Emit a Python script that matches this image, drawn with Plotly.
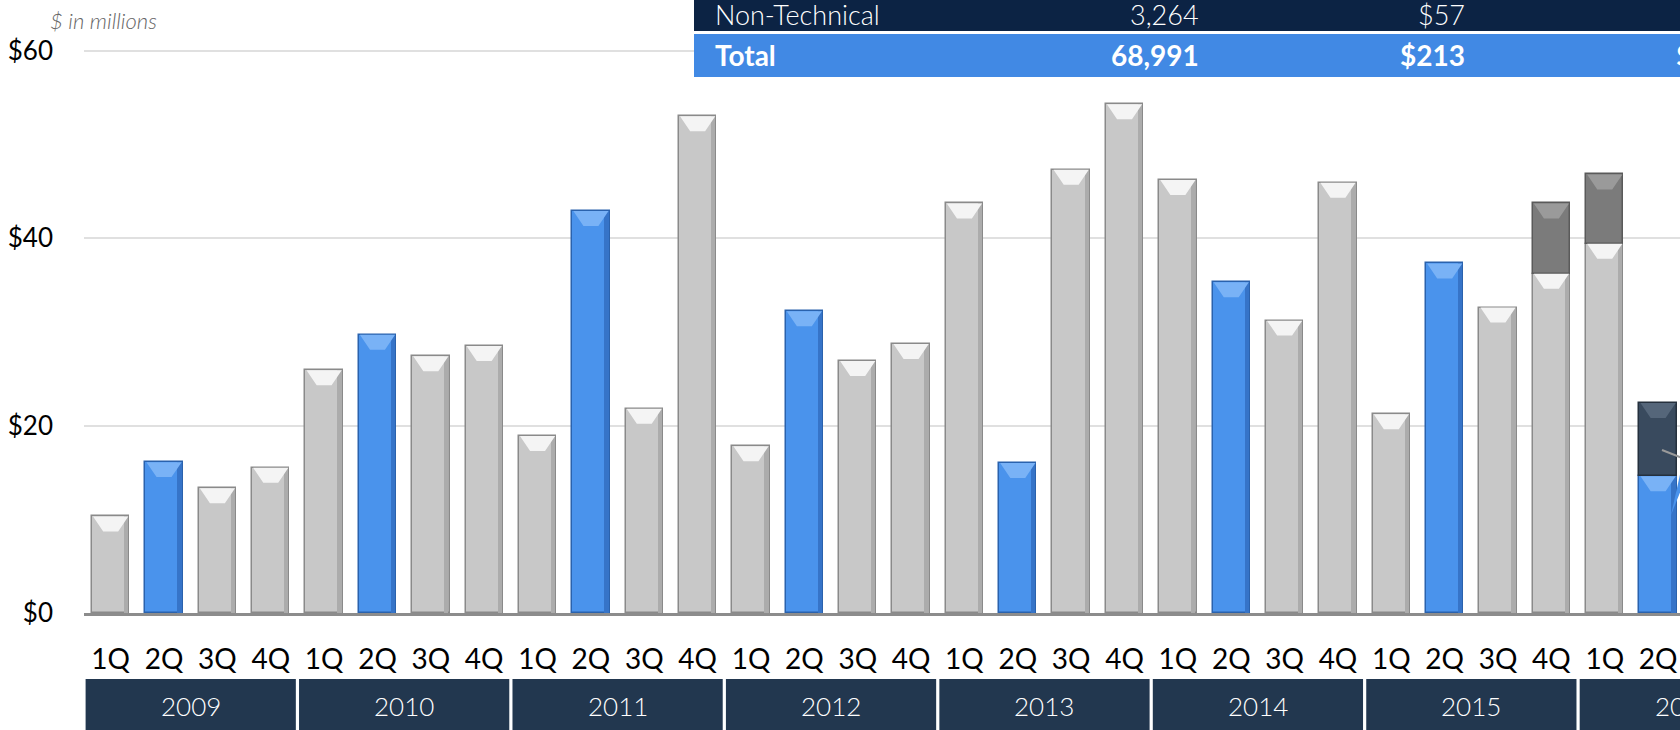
import plotly.graph_objects as go

# ---------------- data ----------------
quarter_labels = ["1Q", "2Q", "3Q", "4Q", "1Q", "2Q", "3Q", "4Q",
                  "1Q", "2Q", "3Q", "4Q", "1Q", "2Q", "3Q", "4Q",
                  "1Q", "2Q", "3Q", "4Q", "1Q", "2Q", "3Q", "4Q",
                  "1Q", "2Q", "3Q", "4Q", "1Q", "2Q"]
years = ["2009", "2010", "2011", "2012", "2013", "2014", "2015", "2016"]
base_values = [10.3, 16.1, 13.3, 15.5,
               25.9, 29.7, 27.4, 28.5,
               18.9, 42.9, 21.8, 53.0,
               17.8, 32.2, 26.9, 28.7,
               43.7, 16.0, 47.3, 54.3,
               46.2, 35.3, 31.2, 45.9,
               21.2, 37.3, 32.6, 36.2,
               39.4, 14.6]
top_values = [0, 0, 0, 0, 0, 0, 0, 0, 0, 0, 0, 0, 0, 0, 0, 0,
              0, 0, 0, 0, 0, 0, 0, 0, 0, 0, 0, 7.5, 7.4, 7.8]
y_ticks = [0, 20, 40, 60]
y_tick_text = ["$0", "$20", "$40", "$60"]
table_rows = [("Non-Technical", "3,264", "$57"), ("Total", "68,991", "$213")]

# ---------------- geometry ----------------
W, H = 1680, 730
ML, MR, MT, MB = 84, 0, 32, 117
PW, PH = W - ML - MR, H - MT - MB
XR = [-0.5, 29.41]
YR = [0, 62]
FONT = "Lato"


def px2x(px):
    return (px - ML) / PW


def py2y(py):
    return (H - MB - py) / PH


def d2paper(xd):
    return (xd - XR[0]) / (XR[1] - XR[0])


idx = list(range(len(base_values)))
hl = [q == "2Q" for q in quarter_labels]

GRAY, GRAY_EDGE, GRAY_SHADE, GRAY_CAP = "#c8c8c8", "#8a8a8a", "#acacac", "#f4f4f4"
BLUE, BLUE_EDGE, BLUE_SHADE, BLUE_CAP = "#4a93ec", "#2a62ad", "#3674c8", "#79b2f6"
DGRAY, DGRAY_EDGE, DGRAY_CAP = "#7b7b7b", "#5a5a5a", "#9a9a9a"
NAVY, NAVY_EDGE, NAVY_CAP = "#394a5e", "#25303d", "#55667a"
BW = 0.70
CAP_D = 1.6      # depth of bevel chevron (data units)
CAP_IN = 0.19    # inset of chevron bottom (category units)

fig = go.Figure()

# main bars
fig.add_trace(go.Bar(
    x=idx, y=base_values, base=[0] * len(idx), width=BW,
    marker=dict(color=[BLUE if h else GRAY for h in hl],
                line=dict(color=[BLUE_EDGE if h else GRAY_EDGE for h in hl], width=1.5)),
    hoverinfo="skip", showlegend=False))
# right shading strip for bevel look
fig.add_trace(go.Bar(
    x=idx, y=base_values, base=[0] * len(idx), width=0.08, offset=BW / 2 - 0.10,
    marker=dict(color=[BLUE_SHADE if h else GRAY_SHADE for h in hl], line=dict(width=0)),
    hoverinfo="skip", showlegend=False))

# stacked top segments
tx = [i for i, t in enumerate(top_values) if t > 0]
fig.add_trace(go.Bar(
    x=tx, y=[top_values[i] for i in tx], base=[base_values[i] for i in tx], width=BW,
    marker=dict(color=[NAVY if hl[i] else DGRAY for i in tx],
                line=dict(color=[NAVY_EDGE if hl[i] else DGRAY_EDGE for i in tx], width=1.5)),
    hoverinfo="skip", showlegend=False))


def chevrons(items, color):
    xs, ys = [], []
    h = BW / 2 - 0.02
    for xc, top in items:
        xs += [xc - h, xc + h, xc + h - CAP_IN, xc - h + CAP_IN, xc - h, None]
        ys += [top, top, top - CAP_D, top - CAP_D, top, None]
    fig.add_trace(go.Scatter(x=xs, y=ys, mode="lines", fill="toself", fillcolor=color,
                             line=dict(width=0), hoverinfo="skip", showlegend=False))


chevrons([(i, base_values[i]) for i in idx if not hl[i]], GRAY_CAP)
chevrons([(i, base_values[i]) for i in idx if hl[i]], BLUE_CAP)
chevrons([(i, base_values[i] + top_values[i]) for i in tx if not hl[i]], DGRAY_CAP)
chevrons([(i, base_values[i] + top_values[i]) for i in tx if hl[i]], NAVY_CAP)

shapes = []
annotations = []

# year boxes
for k, yr in enumerate(years):
    x0 = 4 * k - 0.5 + 0.03
    x1 = min(4 * k + 3.5 - 0.03, XR[1])
    shapes.append(dict(type="rect", xref="x", yref="paper", x0=x0, x1=x1,
                       y0=py2y(H + 2), y1=py2y(679), fillcolor="#22374f",
                       line=dict(width=0), layer="above"))
    annotations.append(dict(text=yr, xref="paper", yref="paper", x=d2paper(4 * k + 1.5),
                            y=py2y(706), xanchor="center", yanchor="middle", showarrow=False,
                            font=dict(family=FONT, size=26, color="white", weight=300)))

# table (top right)
shapes.append(dict(type="rect", xref="paper", yref="paper", x0=px2x(694), x1=px2x(W + 5),
                   y0=py2y(31), y1=py2y(-5), fillcolor="#0c2344", line=dict(width=0), layer="above"))
shapes.append(dict(type="rect", xref="paper", yref="paper", x0=px2x(694), x1=px2x(W + 5),
                   y0=py2y(77), y1=py2y(34), fillcolor="#4189e4", line=dict(width=0), layer="above"))
row_y = [15, 55]
for r, (name, cnt, amt) in enumerate(table_rows):
    bold = r == 1
    f = dict(family=FONT, size=28 if bold else 27, color="white", weight=700 if bold else 300)
    annotations.append(dict(text=name, xref="paper", yref="paper", x=px2x(713), y=py2y(row_y[r]),
                            xanchor="left", yanchor="middle", showarrow=False, font=f))
    annotations.append(dict(text=cnt, xref="paper", yref="paper", x=px2x(1201), y=py2y(row_y[r]),
                            xanchor="right", yanchor="middle", showarrow=False, font=f))
    annotations.append(dict(text=amt, xref="paper", yref="paper", x=px2x(1467), y=py2y(row_y[r]),
                            xanchor="right", yanchor="middle", showarrow=False, font=f))
annotations.append(dict(text="$", xref="paper", yref="paper", x=px2x(1674), y=py2y(55),
                        xanchor="left", yanchor="middle", showarrow=False,
                        font=dict(family=FONT, size=28, color="white", weight=700)))

# units note
annotations.append(dict(text="$ in millions", xref="paper", yref="paper", x=px2x(48), y=py2y(21),
                        xanchor="left", yanchor="middle", showarrow=False,
                        font=dict(family=FONT, size=22, color="#666666", style="italic", weight=300)))

# partial callout pieces at the right edge
shapes.append(dict(type="line", xref="paper", yref="paper", x0=px2x(1662), y0=py2y(450),
                   x1=px2x(1682), y1=py2y(458), line=dict(color="#9a9a9a", width=2), layer="above"))
shapes.append(dict(type="path", xref="paper", yref="paper",
                   path="M {} {} L {} {} L {} {} Z".format(px2x(1671), py2y(515), px2x(1681), py2y(470),
                                                       px2x(1681), py2y(490)),
                   fillcolor="#4a93ec", line=dict(width=0), layer="above"))

fig.update_layout(
    width=W, height=H, margin=dict(l=ML, r=MR, t=MT, b=MB, pad=0),
    paper_bgcolor="white", plot_bgcolor="white", barmode="overlay", bargap=0,
    showlegend=False, shapes=shapes, annotations=annotations,
    font=dict(family=FONT, color="black"),
    xaxis=dict(range=XR, tickmode="array", tickvals=idx, ticktext=quarter_labels,
               showgrid=False, zeroline=False, showline=True, linecolor="#8c8c8c", linewidth=3,
               ticks="", tickfont=dict(family=FONT, size=28, color="black"), ticklabelstandoff=19,
               fixedrange=True),
    yaxis=dict(range=YR, tickmode="array", tickvals=y_ticks, ticktext=y_tick_text,
               showgrid=True, gridcolor="#e0e0e0", gridwidth=1.5, zeroline=False, showline=False,
               ticks="", tickfont=dict(family=FONT, size=26, color="black"), ticklabelstandoff=30,
               fixedrange=True),
)

fig.write_html("out.html")
